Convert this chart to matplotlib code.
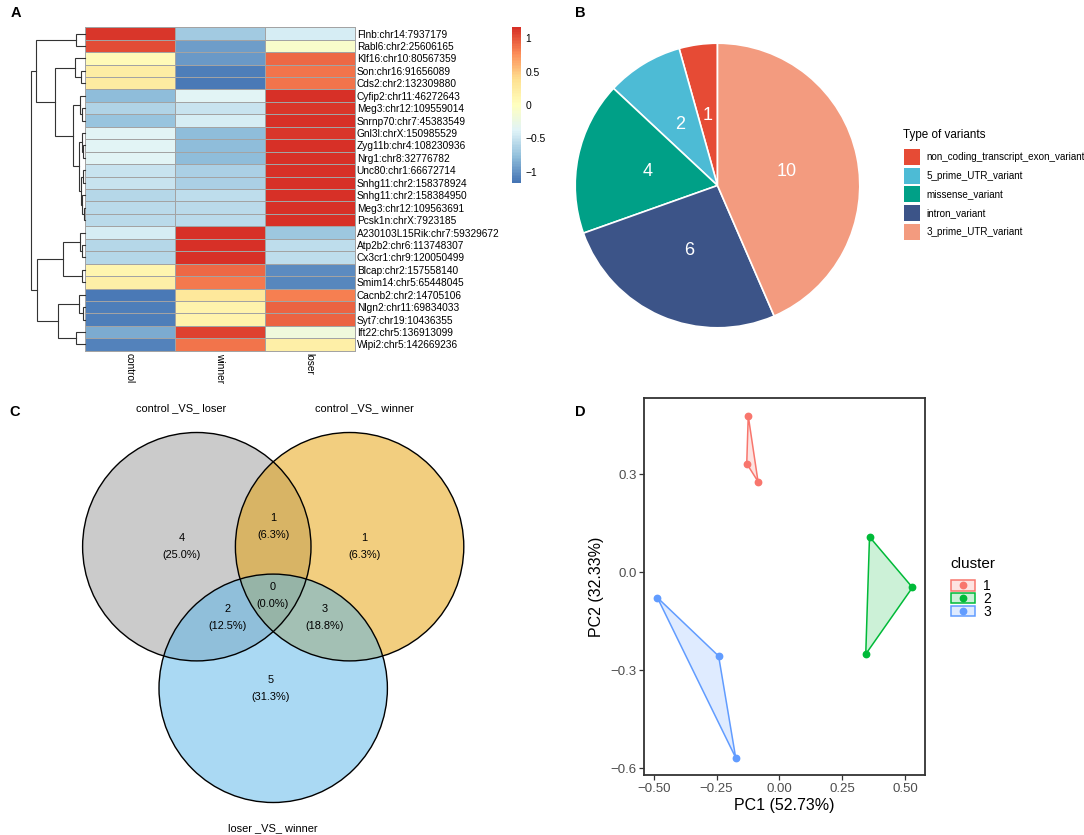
import numpy as np
import matplotlib
matplotlib.use('Agg')
import matplotlib.pyplot as plt
from matplotlib.colors import LinearSegmentedColormap, to_rgba
from matplotlib.patches import Ellipse, Rectangle, Polygon

plt.rcParams['font.family'] = ['Liberation Sans', 'DejaVu Sans']

W, H = 1084, 835

# ---------------- Panel A data ----------------
genes = ['Flnb:chr14:7937179', 'Rabl6:chr2:25606165', 'Klf16:chr10:80567359',
         'Son:chr16:91656089', 'Cds2:chr2:132309880', 'Cyfip2:chr11:46272643',
         'Meg3:chr12:109559014', 'Snrnp70:chr7:45383549', 'Gnl3l:chrX:150985529',
         'Zyg11b:chr4:108230936', 'Nrg1:chr8:32776782', 'Unc80:chr1:66672714',
         'Snhg11:chr2:158378924', 'Snhg11:chr2:158384950', 'Meg3:chr12:109563691',
         'Pcsk1n:chrX:7923185', 'A230103L15Rik:chr7:59329672', 'Atp2b2:chr6:113748307',
         'Cx3cr1:chr9:120050499', 'Blcap:chr2:157558140', 'Smim14:chr5:65448045',
         'Cacnb2:chr2:14705106', 'Nlgn2:chr11:69834033', 'Syt7:chr19:10436355',
         'Ift22:chr5:136913099', 'Wipi2:chr5:142669236']
groups = ['control', 'winner', 'loser']
control = [1.12, 1.03, 0.05, 0.22, 0.25, -0.78, -0.62, -0.72, -0.35, -0.36, -0.36, -0.50, -0.50,
           -0.60, -0.58, -0.56, -0.44, -0.60, -0.60, 0.12, 0.20, -1.12, -1.10, -1.10, -0.88, -1.08]
winner = [-0.68, -0.95, -0.97, -1.10, -1.12, -0.37, -0.50, -0.42, -0.78, -0.78, -0.78, -0.64, -0.64,
          -0.54, -0.56, -0.58, 1.14, 1.15, 1.15, 0.92, 0.85, 0.30, 0.15, 0.15, 1.08, 0.88]
loser = [-0.44, -0.08, 0.92, 0.88, 0.87, 1.15, 1.12, 1.14, 1.13, 1.14, 1.14, 1.14, 1.14,
         1.14, 1.14, 1.14, -0.70, -0.55, -0.55, -1.04, -1.05, 0.82, 0.95, 0.95, -0.20, 0.20]
# row dendrogram: (merge height, left, right), leaves = row index
row_tree = (5.4,
            (4.9, (0.9, 0, 1),
                  (3.0, (1.0, 2, (0.4, 3, 4)),
                        (1.2, (0.5, 5, (0.3, 6, 7)),
                              (0.6, (0.3, 8, (0.15, 9, 10)),
                                    (0.4, (0.2, 11, 12), (0.25, 13, (0.1, 14, 15))))))),
            (4.8, (2.2, (0.5, 16, (0.3, 17, 18)), (0.3, 19, 20)),
                  (2.7, (0.6, 21, (0.2, 22, 23)), (0.9, 24, 25))))
heat_colors = ['#4575B4', '#91BFDB', '#E0F3F8', '#FFFFBF', '#FEE090', '#FC8D59', '#D73027']
cbar_ticks = [-1, -0.5, 0, 0.5, 1]
cbar_labels = ['\u22121', '\u22120.5', '0', '0.5', '1']

# ---------------- Panel B data ----------------
variant_types = ['non_coding_transcript_exon_variant', '5_prime_UTR_variant',
                 'missense_variant', 'intron_variant', '3_prime_UTR_variant']
variant_counts = [1, 2, 4, 6, 10]
variant_colors = ['#E64B35', '#4DBBD5', '#00A087', '#3C5488', '#F39B7F']

# ---------------- Panel C data ----------------
set_names = ['control _VS_ loser', 'control _VS_ winner', 'loser _VS_ winner']
set_colors = ['#999999', '#E69F00', '#56B4E9']
region_keys = ['100', '110', '010', '111', '101', '011', '001']
region_counts = [4, 1, 1, 0, 2, 3, 5]

# ---------------- Panel D data ----------------
cluster_names = ['1', '2', '3']
cluster_colors = ['#F8766D', '#00BA38', '#619CFF']
pc1 = [[-0.124, -0.130, -0.085], [0.359, 0.530, 0.344], [-0.486, -0.242, -0.174]]
pc2 = [[0.479, 0.333, 0.278], [0.109, -0.046, -0.250], [-0.077, -0.256, -0.567]]
pc1_label = 'PC1 (52.73%)'
pc2_label = 'PC2 (32.33%)'
x_ticks = [-0.5, -0.25, 0, 0.25, 0.5]
y_ticks = [-0.6, -0.3, 0, 0.3]


def px(x0, y0, w, h):
    return [x0 / W, 1 - (y0 + h) / H, w / W, h / H]


fig = plt.figure(figsize=(W / 100, H / 100), dpi=100)

# ================= Panel A =================
HL, HT, HR, HB = 85, 27.3, 354.6, 350.7
cmap = LinearSegmentedColormap.from_list('rdylbu', heat_colors, N=100)
M = np.array([control, winner, loser]).T
ax_h = fig.add_axes(px(HL, HT, HR - HL, HB - HT))
mesh = ax_h.pcolormesh(M, cmap=cmap, vmin=-1.16, vmax=1.16,
                       edgecolors='#A3A3A3', linewidth=0.7)
mesh.set_clip_on(False)
ax_h.set_xlim(0, 3)
ax_h.set_ylim(len(genes), 0)
for s in ax_h.spines.values():
    s.set_visible(False)
ax_h.yaxis.tick_right()
ax_h.set_yticks(np.arange(len(genes)) + 0.5)
ax_h.set_yticklabels(genes, fontsize=7.3)
ax_h.set_xticks(np.arange(3) + 0.5)
ax_h.set_xticklabels(groups, rotation=270, fontsize=7.3, va='top', ha='center')
ax_h.tick_params(length=0, pad=1.5)

ax_d = fig.add_axes(px(31, HT, HL - 31, HB - HT))
ax_d.set_xlim(row_tree[0], 0)
ax_d.set_ylim(len(genes), 0)
ax_d.axis('off')


def draw_tree(node):
    if isinstance(node, int):
        return node + 0.5, 0.0
    h, l, r = node
    yl, hl = draw_tree(l)
    yr, hr = draw_tree(r)
    ax_d.plot([hl, h, h, hr], [yl, yl, yr, yr], color='#333333', lw=0.8,
              clip_on=False, solid_joinstyle='miter')
    return (yl + yr) / 2, h


draw_tree(row_tree)

cax = fig.add_axes(px(512, 27.3, 9, 155.4))
cb = fig.colorbar(mesh, cax=cax, ticks=cbar_ticks)
cb.set_ticklabels(cbar_labels)
cb.outline.set_visible(False)
cax.tick_params(length=0, labelsize=7.4, pad=3)

# ================= Panel B =================
ax_p = fig.add_axes(px(574.5, 42.5, 286, 286))
total = sum(variant_counts)
ax_p.pie(variant_counts, colors=variant_colors, startangle=90, counterclock=True,
         wedgeprops=dict(edgecolor='white', linewidth=1.2),
         autopct=lambda p: f'{p * total / 100:.0f}', pctdistance=0.5,
         textprops=dict(color='white', fontsize=13))
ax_p.set_xlim(-1.005, 1.005)
ax_p.set_ylim(-1.005, 1.005)

# overlay axes in pixel coordinates for Venn, legends and panel tags
ax_o = fig.add_axes([0, 0, 1, 1])
ax_o.set_xlim(0, W)
ax_o.set_ylim(H, 0)
ax_o.axis('off')
ax_o.set_zorder(5)

ax_o.text(902.6, 135, 'Type of variants', fontsize=8.4, va='center', ha='left')
for i, (lab, col) in enumerate(zip(variant_types, variant_colors)):
    y0 = 148.7 + 18.8 * i
    ax_o.add_patch(Rectangle((904, y0), 16, 16, facecolor=col, edgecolor='none'))
    ax_o.text(926.5, y0 + 8.3, lab, fontsize=7.1, va='center', ha='left')

# ================= Panel C =================
centers = [(196.8, 546.7), (349.6, 546.7), (273.2, 688.3)]
rad = 114.2
for c, col in zip(centers, set_colors):
    ax_o.add_patch(Ellipse(c, 2 * rad, 2 * rad, facecolor=to_rgba(col, 0.5), edgecolor='none'))
for c in centers:
    ax_o.add_patch(Ellipse(c, 2 * rad, 2 * rad, facecolor='none', edgecolor='black', lw=1.0))
title_pos = [(181.4, 408.3), (364.6, 408.3), (273.2, 827.7)]
for (x, y), name in zip(title_pos, set_names):
    ax_o.text(x, y, name, fontsize=7.9, ha='center', va='center')
region_pos = {'100': (181.4, 538.3), '110': (273.2, 518.3), '010': (364.3, 538.3),
              '111': (272.9, 587.3), '101': (227.9, 609.3), '011': (324.3, 609.3),
              '001': (270.4, 680.0)}
vtotal = sum(region_counts)
for key, n in zip(region_keys, region_counts):
    x, y = region_pos[key]
    pct = np.floor(n / vtotal * 1000 + 0.5) / 10
    ax_o.text(x, y, f'{n}', fontsize=7.9, ha='center', va='center')
    ax_o.text(x, y + 17, f'({pct:.1f}%)', fontsize=7.9, ha='center', va='center')

# ================= Panel D =================
ax_s = fig.add_axes(px(644.3, 398.3, 280.7, 376.7))
for xs, ys, col in zip(pc1, pc2, cluster_colors):
    ax_s.add_patch(Polygon(np.column_stack([xs, ys]), closed=True,
                           facecolor=to_rgba(col, 0.2), edgecolor=col, lw=1.1))
    ax_s.plot(xs, ys, 'o', color=col, ms=4.6, mec=col, ls='none')
ax_s.set_xlim(-0.538, 0.580)
ax_s.set_ylim(-0.620, 0.533)
ax_s.set_xticks(x_ticks)
ax_s.set_xticklabels([f'{v:.2f}'.replace('-', '\u2212') for v in x_ticks])
ax_s.set_yticks(y_ticks)
ax_s.set_yticklabels([f'{v:.1f}'.replace('-', '\u2212') for v in y_ticks])
ax_s.tick_params(direction='out', length=3.5, width=0.9, labelsize=9.5,
                 labelcolor='#4D4D4D', color='#333333', pad=2)
for s in ax_s.spines.values():
    s.set_linewidth(1.3)
    s.set_color('#333333')
ax_s.set_xlabel(pc1_label, fontsize=11.5)
ax_s.set_ylabel(pc2_label, fontsize=11.5)
ax_s.xaxis.set_label_coords(0.5, -0.062)
ax_s.yaxis.set_label_coords(-0.142, 0.5)

ax_o.text(950, 564.3, 'cluster', fontsize=11, ha='left', va='center')
for i, (name, col) in enumerate(zip(cluster_names, cluster_colors)):
    y0 = 580.3 + 12.9 * i
    ax_o.add_patch(Rectangle((950.5, y0), 24, 10.3, facecolor=to_rgba(col, 0.2),
                             edgecolor=col, lw=1.1))
    ax_o.plot([962.5], [y0 + 5.15], 'o', color=col, ms=4.6)
    ax_o.text(983, y0 + 5.6, name, fontsize=10, ha='left', va='center')

# panel tags
for tag, (x, y) in zip('ABCD', [(10.5, 13), (575, 13), (9, 412.5), (575, 412.5)]):
    ax_o.text(x, y, tag, fontsize=10.5, fontweight='bold', ha='left', va='center')

fig.savefig('out.png', dpi=100)
